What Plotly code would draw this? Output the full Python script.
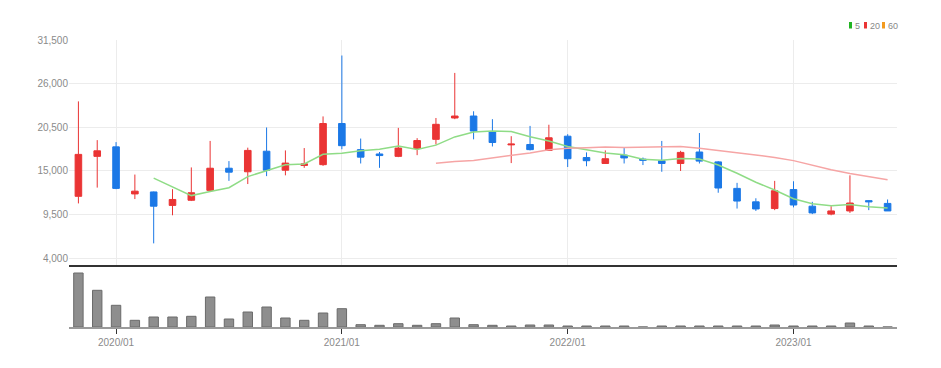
import plotly.graph_objects as go

# ---------------- data (monthly candles) ----------------
months = ["2019/11", "2019/12",
          "2020/01", "2020/02", "2020/03", "2020/04", "2020/05", "2020/06",
          "2020/07", "2020/08", "2020/09", "2020/10", "2020/11", "2020/12",
          "2021/01", "2021/02", "2021/03", "2021/04", "2021/05", "2021/06",
          "2021/07", "2021/08", "2021/09", "2021/10", "2021/11", "2021/12",
          "2022/01", "2022/02", "2022/03", "2022/04", "2022/05", "2022/06",
          "2022/07", "2022/08", "2022/09", "2022/10", "2022/11", "2022/12",
          "2023/01", "2023/02", "2023/03", "2023/04", "2023/05", "2023/06"]

open_ = [11800, 16850, 18050, 12100, 12350, 10650, 11300, 12550, 15350, 14900, 17500,
         15100, 15700, 15800, 21000, 17700, 17150, 16850, 17850, 19000, 21700, 21950,
         19950, 18300, 18350, 17600, 19400, 16700, 15950, 17000, 16500, 16300, 15950,
         17400, 16150, 12800, 11100, 10250, 12650, 10550, 9550, 9950, 11250, 10900]
high = [23800, 18900, 18650, 14550, 12400, 12700, 15450, 18800, 16250, 17950, 20500,
        17600, 17900, 21900, 29600, 19100, 17400, 20450, 19150, 21700, 27400, 22550,
        21550, 19400, 20700, 20850, 19650, 17350, 17600, 17900, 16700, 18800, 17550,
        19800, 16250, 13500, 11550, 13750, 13700, 11100, 10550, 14450, 11300, 11400]
low = [10900, 12900, 12700, 11450, 5850, 9400, 11200, 12450, 13750, 13350, 14350,
       14450, 15400, 15650, 17750, 15950, 15400, 16750, 17000, 18350, 21550, 19000,
       18100, 16000, 17600, 17550, 15500, 15600, 15950, 15950, 15750, 14900, 15000,
       15950, 12250, 10250, 9950, 10050, 10400, 9550, 9400, 9700, 10050, 9950]
close = [17100, 17550, 12800, 12450, 10550, 11400, 12250, 15350, 14850, 17600, 15100,
         16000, 15900, 21000, 18200, 16750, 16950, 17900, 18850, 20900, 21950, 20050,
         18600, 18400, 17700, 19200, 16550, 16300, 16550, 16650, 16350, 15950, 17350,
         16250, 12850, 11200, 10200, 12500, 10700, 9700, 9950, 10950, 11100, 9950]

# moving averages
ma5 = [None, None, None, None, 14090, 12950, 11890, 12400, 12880, 14290, 15030,
       15780, 15890, 17120, 17240, 17570, 17760, 18160, 17730, 18270, 19310, 19930,
       20070, 19980, 19340, 18790, 18090, 17630, 17260, 17050, 16480, 16360, 16570,
       16510, 15750, 14720, 13570, 12600, 11490, 10860, 10610, 10760, 10480, 10330]
ma20 = [None] * 19 + [15973, 16215, 16340, 16630, 16928, 17285, 17675, 17890, 17938,
                      18023, 17975, 18038, 18035, 18108, 17870, 17603, 17325, 16988,
                      16718, 16310, 15750, 15150, 14695, 14320, 13898]

volume = [5400, 3670, 2170, 670, 1000, 1000, 1070, 3000, 800, 1500, 2000,
          900, 670, 1400, 1830, 230, 170, 330, 170, 330, 900, 230,
          170, 100, 200, 200, 100, 100, 100, 100, 0, 100, 100,
          100, 100, 100, 100, 200, 100, 100, 100, 400, 100, 0]

y_ticks = [4000, 9500, 15000, 20500, 26000, 31500]
x_ticks = ["2020/01", "2021/01", "2022/01", "2023/01"]

legend_labels = ["5", "20", "60"]

# ---------------- styling ----------------
RED = "#ea3434"
BLUE = "#1b78e6"
FONT = "Liberation Sans, Arial, sans-serif"
LABEL = "#8a8a8a"

# the page body has an 8px margin; size the figure to fit the 941x368 window
OFF = 8
W, H = 941 - 2 * OFF, 368 - 2 * OFF
L = 69 - OFF           # plot left edge at page x=69
R = 941 - OFF - 897    # plot right edge at page x=897
T = 40 - OFF           # plot top at page y=40
B = (368 - OFF) - 327  # plot bottom at page y=327
PW, PH = W - L - R, H - T - B


def px_x(p):
    return (p - OFF - L) / PW


def px_y(p):
    return (T + PH - (p - OFF)) / PH


split = px_y(265)

fig = go.Figure()

fig.add_trace(go.Candlestick(
    x=months, open=open_, high=high, low=low, close=close,
    increasing=dict(line=dict(color=RED, width=1), fillcolor=RED),
    decreasing=dict(line=dict(color=BLUE, width=1), fillcolor=BLUE),
    whiskerwidth=0, xaxis="x", yaxis="y", showlegend=False, hoverinfo="skip"))

fig.add_trace(go.Scatter(x=months, y=ma5, mode="lines", xaxis="x", yaxis="y",
                         line=dict(color="#8fdc86", width=1.5), showlegend=False,
                         hoverinfo="skip"))
fig.add_trace(go.Scatter(x=months, y=ma20, mode="lines", xaxis="x", yaxis="y",
                         line=dict(color="#f6a5a5", width=1.5), showlegend=False,
                         hoverinfo="skip"))

fig.add_trace(go.Bar(x=months, y=volume, xaxis="x2", yaxis="y2", width=0.5,
                     marker=dict(color="#8e8e8e", line=dict(color="#6a6a6a", width=1)),
                     showlegend=False, hoverinfo="skip"))

# legend (custom squares + labels, top right)
legend_colors = ["#22b422", "#ea3434", "#f39a1e"]
legend_x = [849, 864, 882]
shapes = []
annotations = []
for lx, col, lab in zip(legend_x, legend_colors, legend_labels):
    shapes.append(dict(type="rect", xref="paper", yref="paper",
                       x0=px_x(lx), x1=px_x(lx + 3), y0=px_y(28.5), y1=px_y(22),
                       fillcolor=col, line=dict(width=0)))
    annotations.append(dict(xref="paper", yref="paper", x=px_x(lx + 4), y=px_y(25.5),
                            text=lab, showarrow=False, xanchor="left", yanchor="middle",
                            font=dict(family=FONT, size=9, color="#888888")))

fig.update_layout(
    width=W, height=H,
    margin=dict(l=L, r=R, t=T, b=B, autoexpand=False),
    paper_bgcolor="white", plot_bgcolor="white",
    showlegend=False,
    boxgap=0.5,
    bargap=0.5,
    shapes=shapes,
    annotations=annotations,
    xaxis=dict(type="category", domain=[0, 1], anchor="y", range=[-0.5, 43.5],
               showticklabels=False, ticks="", showgrid=True, gridcolor="#ececec",
               gridwidth=1, tickmode="array", tickvals=x_ticks,
               showline=True, linecolor="#333333", linewidth=2,
               rangeslider=dict(visible=False), fixedrange=True),
    yaxis=dict(domain=[split, 1], range=[3115, 31560], tickmode="array",
               tickvals=y_ticks, tickformat=",d", showgrid=True, gridcolor="#ececec",
               gridwidth=1, zeroline=False, ticks="", showline=False,
               tickfont=dict(family=FONT, size=10, color=LABEL), fixedrange=True),
    xaxis2=dict(type="category", domain=[0, 1], anchor="y2", matches="x",
                range=[-0.5, 43.5], tickmode="array", tickvals=x_ticks,
                ticktext=x_ticks, ticks="outside", ticklen=5, tickwidth=1,
                tickcolor="#333333", showgrid=False, showline=True,
                linecolor="#9a9a9a", linewidth=2,
                tickfont=dict(family=FONT, size=10, color=LABEL), fixedrange=True),
    yaxis2=dict(domain=[0, split], range=[0, 6200], visible=False, fixedrange=True),
)

fig.write_html("out.html")
